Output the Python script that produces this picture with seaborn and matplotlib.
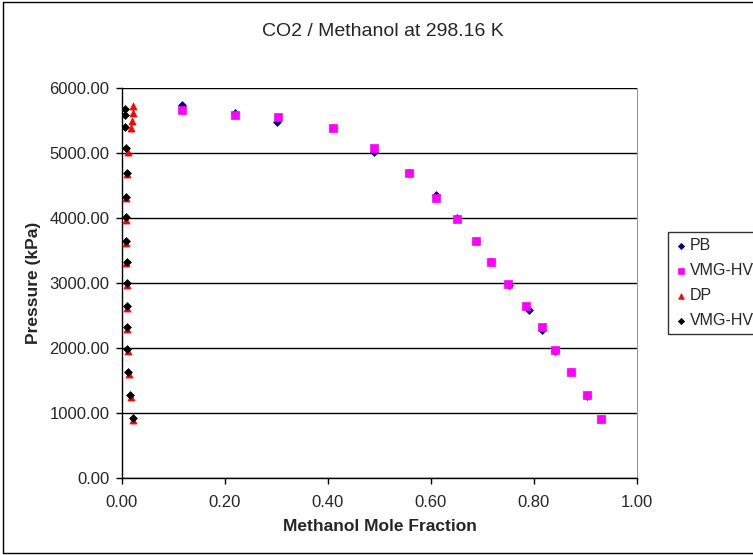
import pandas as pd
import matplotlib
matplotlib.use("Agg")
import matplotlib.pyplot as plt
import seaborn as sns

# bubble points (experimental PB and VMG-HV model)
pb_x = [0.117, 0.220, 0.300, 0.410, 0.490, 0.557, 0.610, 0.650, 0.688, 0.717, 0.752, 0.790, 0.815, 0.840, 0.871, 0.903, 0.930]
pb_y = [5740, 5620, 5480, 5390, 5020, 4700, 4350, 4000, 3650, 3330, 2970, 2590, 2270, 1950, 1630, 1260, 910]
vmg_b_x = [0.117, 0.220, 0.302, 0.410, 0.490, 0.557, 0.610, 0.650, 0.688, 0.717, 0.750, 0.784, 0.815, 0.840, 0.871, 0.903, 0.930]
vmg_b_y = [5660, 5580, 5550, 5390, 5080, 4700, 4310, 3990, 3640, 3330, 2990, 2650, 2320, 1970, 1630, 1270, 910]

# dew points (experimental DP and VMG-HV model)
dp_x = [0.022, 0.022, 0.020, 0.018, 0.012, 0.010, 0.008, 0.008, 0.008, 0.008, 0.009, 0.009, 0.009, 0.011, 0.013, 0.017, 0.022]
dp_y = [5720, 5620, 5500, 5390, 5020, 4680, 4310, 3970, 3620, 3310, 2970, 2610, 2290, 1950, 1600, 1240, 900]
vmg_d_x = [0.006, 0.006, 0.006, 0.007, 0.009, 0.008, 0.008, 0.008, 0.009, 0.009, 0.009, 0.009, 0.010, 0.012, 0.016, 0.021]
vmg_d_y = [5680, 5580, 5400, 5080, 4700, 4330, 4010, 3650, 3330, 3000, 2650, 2330, 1990, 1630, 1280, 920]

sns.set_style("white")
plt.rcParams["font.family"] = ["Liberation Sans", "DejaVu Sans"]

fig = plt.figure(figsize=(7.53, 5.55), dpi=100)
ax = fig.add_axes([122 / 753, 1 - 478 / 555, (637 - 122) / 753, (478 - 88) / 555])

series = [
    (pb_x, pb_y, "PB", "#000080", "D", 16),
    (vmg_b_x, vmg_b_y, "VMG-HV", "#FF00FF", "s", 26),
    (dp_x, dp_y, "DP", "#FF0000", "^", 26),
    (vmg_d_x, vmg_d_y, "VMG-HV", "#000000", "D", 16),
]
for xs, ys, name, color, marker, size in series:
    df = pd.DataFrame({"x": xs, "y": ys})
    sns.scatterplot(data=df, x="x", y="y", ax=ax, color=color, marker=marker,
                    s=size, edgecolor=color, linewidth=0.5, label=name, zorder=3)

ax.set_xlim(0, 1.0)
ax.set_ylim(0, 6000)
ax.set_xticks([0, 0.2, 0.4, 0.6, 0.8, 1.0])
ax.set_yticks(range(0, 6001, 1000))
ax.xaxis.set_major_formatter(matplotlib.ticker.FormatStrFormatter("%.2f"))
ax.yaxis.set_major_formatter(matplotlib.ticker.FormatStrFormatter("%.2f"))
ax.tick_params(axis="both", direction="out", length=4, width=1, color="black",
               labelsize=12, pad=5, left=True, bottom=True)
ax.tick_params(axis="x", pad=8)
ax.grid(axis="y", color="black", linewidth=1)
ax.set_axisbelow(True)
for side in ["left", "bottom"]:
    ax.spines[side].set_color("black")
    ax.spines[side].set_linewidth(1)
ax.spines["right"].set_color("#999999")
ax.spines["top"].set_visible(False)

ax.set_xlabel("Methanol Mole Fraction", fontsize=12.5, fontweight="bold", labelpad=7)
ax.set_ylabel("Pressure (kPa)", fontsize=12.5, fontweight="bold", labelpad=6)
fig.text(383 / 753, 1 - 31 / 555, "CO2 / Methanol at 298.16 K", ha="center", va="center", fontsize=14)

leg = ax.legend(loc="upper left", bbox_to_anchor=(668 / 753, 1 - 232 / 555),
                bbox_transform=fig.transFigure, frameon=True, fancybox=False,
                fontsize=11.5, handletextpad=0.15, borderpad=0.4, labelspacing=0.62,
                handlelength=0.8, borderaxespad=0, markerscale=0.8)
leg.get_frame().set_edgecolor("black")
leg.get_frame().set_linewidth(1)

# outer chart border (right side is cut off in the original)
for xs, ys in [((0.004, 0.004), (0.004, 0.996)), ((0.004, 1.0), (0.996, 0.996)), ((0.004, 1.0), (0.004, 0.004))]:
    fig.add_artist(plt.Line2D(xs, ys, transform=fig.transFigure, color="black", linewidth=1))

fig.savefig("out.png", dpi=100)
